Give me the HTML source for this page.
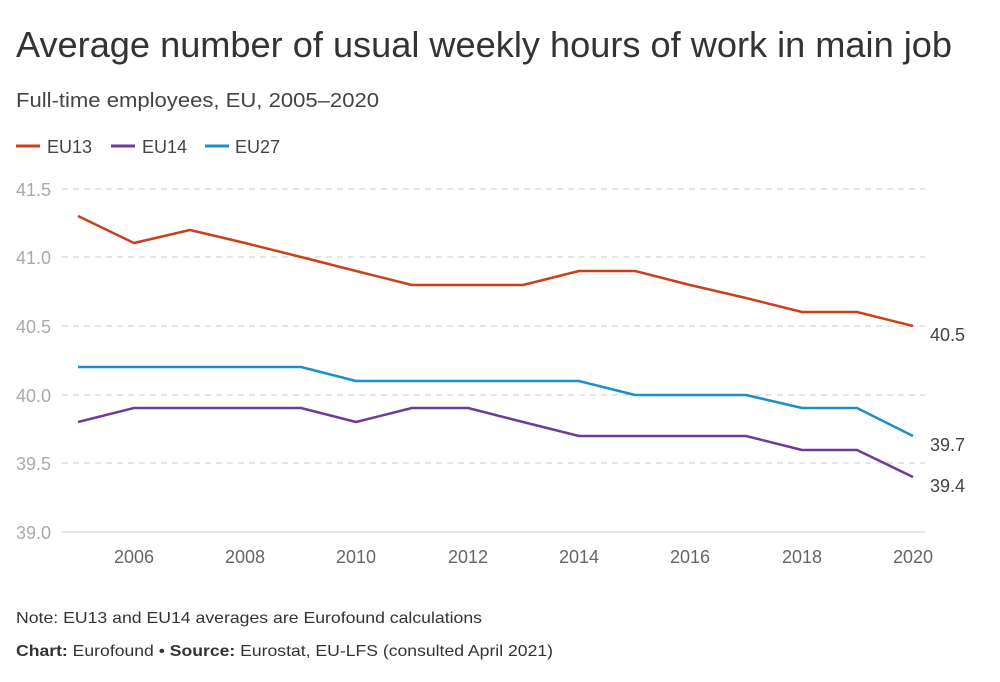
<!DOCTYPE html>
<html><head><meta charset="utf-8"><style>
body{margin:0;background:#fff;width:1000px;height:677px;overflow:hidden;font-family:"Liberation Sans",sans-serif;}
</style></head><body>
<svg width="1000" height="677" xmlns="http://www.w3.org/2000/svg" font-family="Liberation Sans, sans-serif">
<text x="16" y="57" font-size="36" fill="#333" textLength="936" lengthAdjust="spacingAndGlyphs">Average number of usual weekly hours of work in main job</text>
<text x="16" y="107" font-size="20" fill="#444" textLength="363" lengthAdjust="spacingAndGlyphs">Full-time employees, EU, 2005–2020</text>
<line x1="16" y1="146" x2="40" y2="146" stroke="#c9401c" stroke-width="3"/>
<text x="47" y="153" font-size="18" fill="#444">EU13</text>
<line x1="111" y1="146" x2="135" y2="146" stroke="#6a3d9a" stroke-width="3"/>
<text x="142" y="153" font-size="18" fill="#444">EU14</text>
<line x1="205" y1="146" x2="229" y2="146" stroke="#1b8fc6" stroke-width="3"/>
<text x="235" y="153" font-size="18" fill="#444">EU27</text>
<g stroke="#ccc" stroke-dasharray="6,5" stroke-width="1">
<line x1="62" y1="189" x2="925" y2="189"/><line x1="62" y1="257" x2="925" y2="257"/>
<line x1="62" y1="326" x2="925" y2="326"/><line x1="62" y1="395" x2="925" y2="395"/>
<line x1="62" y1="463" x2="925" y2="463"/>
</g>
<line x1="62" y1="532" x2="925" y2="532" stroke="#ccc"/>
<g font-size="18" fill="#aaa">
<text x="16" y="196">41.5</text><text x="16" y="264">41.0</text><text x="16" y="333">40.5</text>
<text x="16" y="402">40.0</text><text x="16" y="470">39.5</text><text x="16" y="539">39.0</text>
</g>
<g font-size="18" fill="#666" text-anchor="middle">
<text x="134" y="563">2006</text><text x="245" y="563">2008</text><text x="356" y="563">2010</text>
<text x="468" y="563">2012</text><text x="579" y="563">2014</text><text x="690" y="563">2016</text>
<text x="802" y="563">2018</text><text x="913" y="563">2020</text>
</g>
<g fill="none" stroke-width="2.5" stroke-linejoin="round">
<polyline stroke="#c9401c" points="78,216 134,243 190,230 245,243 301,257 356,271 412,285 468,285 523,285 579,271 635,271 690,285 746,298 802,312 857,312 913,326"/>
<polyline stroke="#1b8fc6" points="78,367 134,367 190,367 245,367 301,367 356,381 412,381 468,381 523,381 579,381 635,395 690,395 746,395 802,408 857,408 913,436"/>
<polyline stroke="#6a3d9a" points="78,422 134,408 190,408 245,408 301,408 356,422 412,408 468,408 523,422 579,436 635,436 690,436 746,436 802,450 857,450 913,477"/>
</g>
<g font-size="18" fill="#444">
<text x="930" y="341">40.5</text><text x="930" y="451">39.7</text><text x="930" y="492">39.4</text>
</g>
<text x="16" y="623" font-size="16" fill="#333" textLength="466" lengthAdjust="spacingAndGlyphs">Note: EU13 and EU14 averages are Eurofound calculations</text>
<text x="16" y="656" font-size="16" fill="#333" textLength="537" lengthAdjust="spacingAndGlyphs"><tspan font-weight="bold">Chart:</tspan> Eurofound • <tspan font-weight="bold">Source:</tspan> Eurostat, EU-LFS (consulted April 2021)</text>
</svg>
</body></html>
